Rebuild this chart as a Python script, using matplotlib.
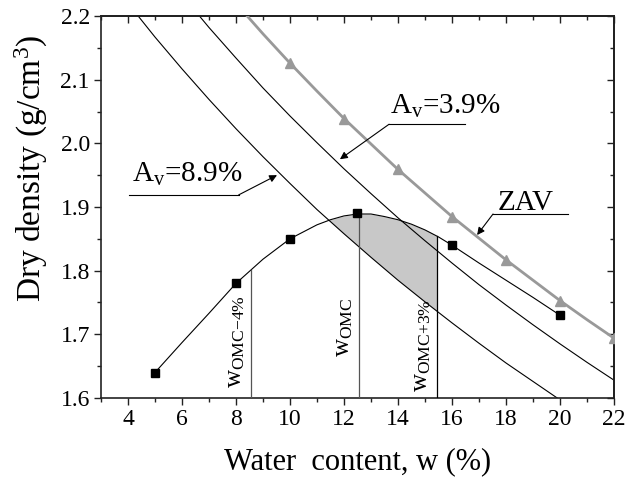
import numpy as np
import matplotlib
matplotlib.use("Agg")
import matplotlib.pyplot as plt
from matplotlib.ticker import MultipleLocator, FormatStrFormatter

plt.rcParams['font.family'] = ['Liberation Serif', 'DejaVu Serif']
plt.rcParams['mathtext.fontset'] = 'custom'
plt.rcParams['mathtext.rm'] = 'Liberation Serif'
plt.rcParams['mathtext.it'] = 'Liberation Serif:italic'

# Proctor test points
w_test = [5, 8, 10, 12.5, 16, 20]
rho_test = [1.64, 1.78, 1.85, 1.89, 1.84, 1.73]

# Fitted compaction curve
w_fit = [5, 6, 7, 8, 9, 10, 11, 11.5, 12, 12.5, 13, 13.5, 14, 14.5, 15, 15.5,
         16, 17, 18, 19, 20]
rho_fit = [1.640, 1.687, 1.733, 1.780, 1.818, 1.850, 1.872, 1.880, 1.886,
           1.889, 1.889, 1.885, 1.880, 1.873, 1.864, 1.853, 1.840, 1.812,
           1.785, 1.758, 1.730]

# Zero-air-voids line
w_zav = [8, 9, 10, 11, 12, 13, 14, 15, 16, 17, 18, 19, 20, 21, 22]
rho_zav = [2.220, 2.172, 2.126, 2.082, 2.039, 1.999, 1.959, 1.922, 1.885,
           1.851, 1.817, 1.785, 1.753, 1.723, 1.694]
w_zav_mark = [10, 12, 14, 16, 18, 20, 22]
rho_zav_mark = [2.126, 2.039, 1.959, 1.885, 1.817, 1.753, 1.694]

# Constant air-void lines
w_av39 = [6, 7, 8, 9, 10, 11, 12, 13, 14, 15, 16, 17, 18, 19, 20, 21, 22]
rho_av39 = [2.233, 2.182, 2.134, 2.087, 2.043, 2.001, 1.960, 1.921, 1.883,
            1.847, 1.812, 1.778, 1.746, 1.715, 1.685, 1.656, 1.628]
w_av89 = [4, 5, 6, 7, 8, 9, 10, 11, 12, 13, 14, 15, 16, 17, 18, 19, 20]
rho_av89 = [2.220, 2.167, 2.117, 2.069, 2.023, 1.979, 1.937, 1.896, 1.858,
            1.821, 1.785, 1.751, 1.718, 1.686, 1.655, 1.626, 1.597]

# Water content limits
w_omc_m4 = 8.56
w_omc = 12.55
w_omc_p3 = 15.44

fig = plt.figure(figsize=(6.26, 4.90), dpi=100)
ax = fig.add_axes([0.1613, 0.1878, 0.8195, 0.7795])
ax.set_xlim(3, 22)
ax.set_ylim(1.6, 2.2)

# shaded acceptance zone
xs = np.linspace(11.0, w_omc_p3, 300)
top = np.interp(xs, w_fit, rho_fit)
bot = np.interp(xs, w_av89, rho_av89)
ax.fill_between(xs, bot, top, where=top >= bot, color='#c8c8c8', lw=0,
                interpolate=True, zorder=1)

ax.plot(w_av89, rho_av89, color='black', lw=0.8, zorder=2)
ax.plot(w_av39, rho_av39, color='black', lw=0.8, zorder=2)
ax.plot(w_zav, rho_zav, color='#999999', lw=2.0, zorder=3)
ax.plot(w_zav_mark, rho_zav_mark, ls='none', marker='^', ms=7,
        color='#999999', zorder=3)
ax.plot(w_fit, rho_fit, color='black', lw=0.8, zorder=4)
ax.plot(w_test, rho_test, ls='none', marker='s', ms=6, color='black',
        zorder=5)

# vertical limit lines
for xv, col in [(w_omc_m4, '#555555'), (w_omc, '#555555'), (w_omc_p3, 'black')]:
    ax.plot([xv, xv], [1.6, np.interp(xv, w_fit, rho_fit)], color=col,
            lw=0.9, zorder=4)

ax.text(8.0, 1.615, r'w$_{\mathrm{OMC{-}4\%}}$', rotation=90, fontsize=18,
        ha='center', va='bottom')
ax.text(12.0, 1.665, r'w$_{\mathrm{OMC}}$', rotation=90, fontsize=18,
        ha='center', va='bottom')
ax.text(14.88, 1.610, r'w$_{\mathrm{OMC{+}3\%}}$', rotation=90, fontsize=18,
        ha='center', va='bottom')

# callouts
arrow = dict(arrowstyle='-|>', color='black', lw=0.8, mutation_scale=11,
             shrinkA=0, shrinkB=0)

ax.text(13.7, 2.047, r'A$_{\mathrm{v}}$=3.9%', fontsize=21, ha='left',
        va='baseline')
ax.plot([13.67, 16.48], [2.030, 2.030], color='black', lw=0.8)
ax.annotate('', xy=(11.85, 1.975), xytext=(13.67, 2.030), arrowprops=arrow)

ax.text(4.15, 1.940, r'A$_{\mathrm{v}}$=8.9%', fontsize=21, ha='left',
        va='baseline')
ax.plot([4.04, 8.1], [1.919, 1.919], color='black', lw=0.8)
ax.annotate('', xy=(9.52, 1.950), xytext=(8.1, 1.919), arrowprops=arrow)

ax.text(17.7, 1.896, 'ZAV', fontsize=21, ha='left', va='baseline')
ax.plot([17.52, 20.3], [1.889, 1.889], color='black', lw=0.8)
ax.annotate('', xy=(16.93, 1.856), xytext=(17.52, 1.889), arrowprops=arrow)

# axes styling
for s in ax.spines.values():
    s.set_linewidth(1.2)
    s.set_color('#222222')
ax.set_xticks([4, 6, 8, 10, 12, 14, 16, 18, 20, 22])
ax.xaxis.set_minor_locator(MultipleLocator(1))
ax.yaxis.set_major_locator(MultipleLocator(0.1))
ax.yaxis.set_minor_locator(MultipleLocator(0.05))
ax.tick_params(which='major', direction='out', length=5, width=1.0,
               labelsize=17, pad=3, color='#222222')
ax.tick_params(which='minor', direction='out', length=3, width=1.0,
               color='#222222')
ax.yaxis.set_major_formatter(FormatStrFormatter('%.1f'))

top_ax = ax.secondary_xaxis('top')
top_ax.xaxis.set_major_locator(MultipleLocator(2))
top_ax.xaxis.set_minor_locator(MultipleLocator(1))
top_ax.tick_params(which='major', direction='in', length=5, width=1.0,
                   labeltop=False, color='#222222')
top_ax.tick_params(which='minor', direction='in', length=3, width=1.0,
                   color='#222222')
top_ax.spines['top'].set_linewidth(1.2)
right_ax = ax.secondary_yaxis('right')
right_ax.yaxis.set_major_locator(MultipleLocator(0.1))
right_ax.yaxis.set_minor_locator(MultipleLocator(0.05))
right_ax.tick_params(which='major', direction='in', length=5, width=1.0,
                     labelright=False, color='#222222')
right_ax.tick_params(which='minor', direction='in', length=3, width=1.0,
                     color='#222222')
right_ax.spines['right'].set_linewidth(1.2)

ax.set_xlabel('Water  content, w (%)', fontsize=22, labelpad=12)
ax.set_ylabel(r'Dry density (g/cm$^{3}$)', fontsize=24)
ax.yaxis.set_label_coords(-0.10, 0.60)

fig.savefig('out.png', dpi=100)
